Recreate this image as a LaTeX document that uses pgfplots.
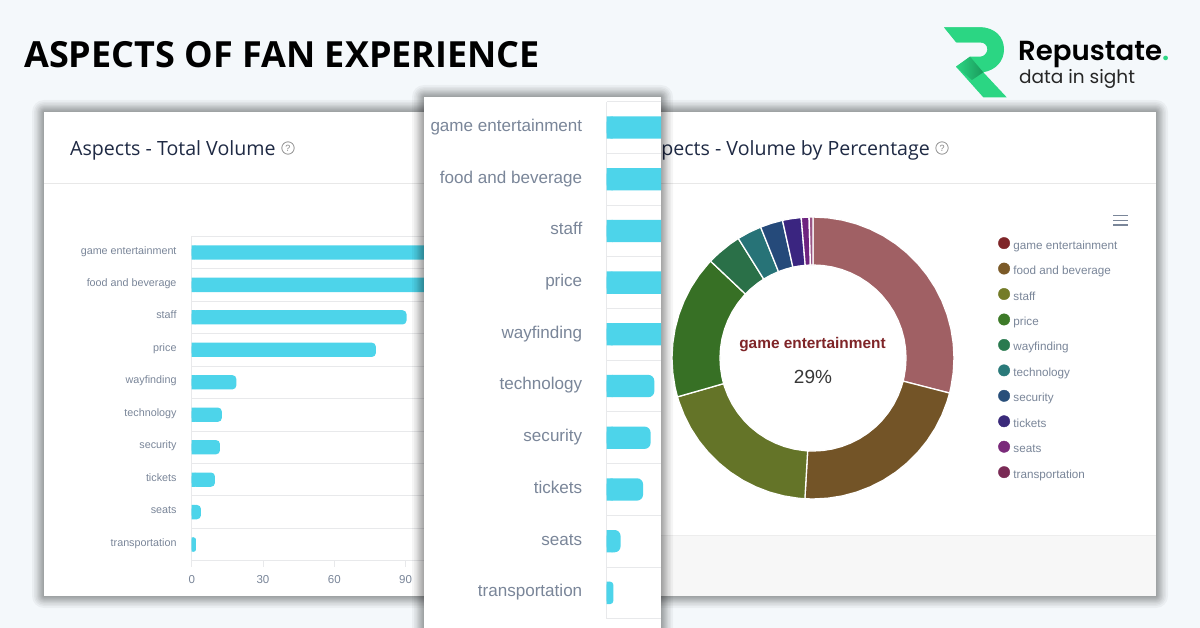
\documentclass[border=0pt]{standalone}
\usepackage{fontspec}
\setmainfont{Liberation Sans}
\newfontfamily\headfont{Open Sans}
\newfontfamily\logofont{Poppins}
\newfontfamily\logobold{Poppins SemiBold}
\usepackage{pgfplots}
\pgfplotsset{compat=1.18}
\usepgfplotslibrary{polar}
\usetikzlibrary{shadings}

\definecolor{pagebg}{HTML}{F4F8FB}
\definecolor{barcyan}{HTML}{4DD4EA}
\definecolor{labelgray}{HTML}{7A8699}
\definecolor{gridgray}{HTML}{E8E9EB}
\definecolor{titlenavy}{HTML}{1F2A44}
\definecolor{logogreen}{HTML}{2BD683}
\definecolor{logodark}{HTML}{1A9A5C}
% slices
\definecolor{cA}{HTML}{A06064}
\definecolor{cB}{HTML}{735427}
\definecolor{cC}{HTML}{647428}
\definecolor{cD}{HTML}{377025}
\definecolor{cE}{HTML}{2A7048}
\definecolor{cF}{HTML}{277377}
\definecolor{cG}{HTML}{254A7A}
\definecolor{cH}{HTML}{3A2580}
\definecolor{cI}{HTML}{6E2480}
\definecolor{cJ}{HTML}{9A5585}
% legend dots
\definecolor{lA}{HTML}{7F2528}
\definecolor{lB}{HTML}{7B5A28}
\definecolor{lC}{HTML}{747C28}
\definecolor{lD}{HTML}{3D7A28}
\definecolor{lE}{HTML}{2A7A4F}
\definecolor{lF}{HTML}{2A7A7A}
\definecolor{lG}{HTML}{284E7A}
\definecolor{lH}{HTML}{3A2A7A}
\definecolor{lI}{HTML}{7A2A7A}
\definecolor{lJ}{HTML}{7A2A55}

\newcommand{\panelshadow}[4]{%
  \foreach \i in {1,2,3,4,5,6,7,8.5,10,12}
    \fill[black, opacity=0.04, rounded corners=\i pt] ({#1-\i},{#2-\i}) rectangle ({#3+\i},{#4+\i});}
\newcommand{\helpicon}[2]{%
  \draw[gray!85, line width=0.8pt] (#1,#2) circle (6.2);
  \node[gray!95, font=\fontsize{9}{9}\selectfont, inner sep=0pt] at (#1,#2) {?};}

\pgfplotsset{
  panelbars/.style={
    scale only axis,
    xmin=0, ymin=-0.5, ymax=9.5,
    axis x line*=bottom, axis y line*=left,
    axis line style={gridgray, line width=0.9pt},
    ytick={0,...,9},
    yticklabels={transportation,seats,tickets,security,technology,wayfinding,price,staff,food and beverage,game entertainment},
    minor ytick={-0.5,0.5,...,9.5},
    yminorgrids=true,
    minor grid style={gridgray, line width=0.9pt},
    minor tick length=0pt,
    ytick style={draw=none},
    tick label style={labelgray},
    xbar, bar shift=0pt,
  },
}

\begin{document}
\begin{tikzpicture}
\path[use as bounding box, clip] (0pt,-628pt) rectangle (1200pt,0pt);
\fill[pagebg] (0pt,-628pt) rectangle (1200pt,0pt);

\begin{scope}[x=1pt,y=-1pt]
  \node[anchor=base west, inner sep=0pt, font=\headfont\bfseries\fontsize{36}{36}\selectfont] at (24,68) {ASPECTS OF FAN EXPERIENCE};

  % logo
  \fill[logogreen] (944,27.3) -- (980,27.3) .. controls (995,27.3) and (1004,37) .. (1004,49.3)
     .. controls (1004,61) and (996,70) .. (983.3,72.3) -- (1006.7,97.3) -- (983.3,97.3) -- (956,66.7)
     -- (970,56.7) -- (980,56.7) .. controls (984,56.7) and (987.3,53) .. (987.3,49.3)
     .. controls (987.3,45) and (984,42.3) .. (980,42.3) -- (956.7,42.3) -- cycle;
  \shade[left color=logogreen, middle color=logodark, right color=logogreen] (956,42.3) -- (944,27.3) -- (980,27.3) .. controls (986,27.3) and (990,29) .. (993,32) -- (985,43) -- (980,42.3) -- cycle;
  \shade[left color=logogreen, right color=logodark] (956,66.7) -- (970,56.7) -- (983.3,72.3) -- (972,80) -- cycle;
  \node[anchor=base west, inner sep=0pt, font=\logobold\fontsize{27.6}{27}\selectfont] at (1018,60.7) {Repustate\textcolor{logogreen}{.}};
  \node[anchor=base west, inner sep=0pt, font=\logofont\fontsize{18.5}{18}\selectfont, text=black!85] at (1019,84) {data in sight};

  % left panel
  \panelshadow{44}{112}{600}{596}
  \fill[white] (44,112) rectangle (600,596);
  \draw[gray!18, line width=0.8pt] (44,183.5) -- (600,183.5);
  \node[anchor=base west, inner sep=0pt, text=titlenavy, font=\headfont\fontsize{19.6}{20}\selectfont] at (70,156) {Aspects - Total Volume};
  \helpicon{288}{148}
\end{scope}

\begin{axis}[panelbars,
    at={(191.7pt,-236.2pt)}, anchor=north west,
    width=356.5pt, height=324.6pt,
    xmax=150,
    xtick={0,30,60,90},
    major tick length=6pt,
    tick align=outside,
    xtick style={gridgray, line width=0.9pt},
    /pgf/number format/assume math mode=true,
    xticklabel style={font=\fontsize{11.5}{12}\selectfont, inner sep=0pt, yshift=-8pt},
    yticklabel style={font=\fontsize{10.76}{12}\selectfont, inner sep=0pt, text height=8pt, text depth=2.3pt, xshift=-9pt, yshift=1.2pt},
    bar width=14.3pt,
  ]
  \addplot[fill=barcyan, draw=none, rounded corners=4pt] coordinates {(133,9)(101,8)(90.4,7)(77.5,6)(18.8,5)(12.7,4)(11.9,3)(9.8,2)(3.9,1)};
  \addplot[fill=barcyan, draw=none, rounded corners=2.2pt] coordinates {(1.8,0)};
  \addplot[fill=barcyan, draw=none] coordinates {(1.5,9)(1.5,8)(1.5,7)(1.5,6)(1.5,5)(1.5,4)(1.5,3)(1.5,2)(1.5,1)(0.9,0)};
\end{axis}

\begin{scope}[x=1pt,y=-1pt]
  % right panel
  \panelshadow{620}{112}{1156}{596}
  \fill[white] (620,112) rectangle (1156,596);
  \fill[black!3] (620,535) rectangle (1156,596);
  \draw[gray!14, line width=0.7pt] (620,535) -- (1156,535);
  \draw[gray!18, line width=0.8pt] (620,183.5) -- (1156,183.5);
  \node[anchor=base east, inner sep=0pt, text=titlenavy, font=\headfont\fontsize{19.6}{20}\selectfont] at (930,156) {Aspects - Volume by Percentage};
  \helpicon{942}{148}
  \draw[labelgray, line width=1.2pt] (1113,215.7) -- (1128,215.7) (1113,220.3) -- (1128,220.3) (1113,225) -- (1128,225);
\end{scope}

\begin{polaraxis}[
    at={(813pt,-358pt)}, anchor=center,
    scale only axis, width=282pt, height=282pt,
    ymin=0, ymax=141, hide axis, clip=false,
    legend cell align=left,
    legend style={at={(1.156,0.929)}, anchor=north west, draw=none, fill=none,
      inner sep=0pt, row sep=10.05pt, text=labelgray,
      font=\fontsize{11.7}{12}\selectfont,
      nodes={text height=9.5pt, text depth=3.5pt, inner sep=0pt, anchor=base west},
      /tikz/every odd column/.style={column sep=3.4pt}},
    legend image code/.code={\fill[#1] (0pt,6pt) circle (5.7pt);},
    slice/.style={fill=#1, draw=white, line width=1.3pt, mark=none, forget plot},
  ]
  \addplot[slice=cA] coordinates {(90,141)(84,141)(78,141)(72,141)(66,141)(60,141)(54,141)(48,141)(42,141)(36,141)(30,141)(24,141)(18,141)(12,141)(6,141)(0,141)(-6,141)(-12,141)(-14.4,141)
    (-14.4,93)(-12,93)(-6,93)(0,93)(6,93)(12,93)(18,93)(24,93)(30,93)(36,93)(42,93)(48,93)(54,93)(60,93)(66,93)(72,93)(78,93)(84,93)(90,93)(90,141)};
  \addplot[slice=cB] coordinates {(-14.4,141)(-18,141)(-24,141)(-30,141)(-36,141)(-42,141)(-48,141)(-54,141)(-60,141)(-66,141)(-72,141)(-78,141)(-84,141)(-90,141)(-93.3,141)
    (-93.3,93)(-90,93)(-84,93)(-78,93)(-72,93)(-66,93)(-60,93)(-54,93)(-48,93)(-42,93)(-36,93)(-30,93)(-24,93)(-18,93)(-14.4,93)(-14.4,141)};
  \addplot[slice=cC] coordinates {(-93.3,141)(-96,141)(-102,141)(-108,141)(-114,141)(-120,141)(-126,141)(-132,141)(-138,141)(-144,141)(-150,141)(-156,141)(-162,141)(-164,141)
    (-164,93)(-162,93)(-156,93)(-150,93)(-144,93)(-138,93)(-132,93)(-126,93)(-120,93)(-114,93)(-108,93)(-102,93)(-96,93)(-93.3,93)(-93.3,141)};
  \addplot[slice=cD] coordinates {(-164,141)(-168,141)(-174,141)(-180,141)(-186,141)(-192,141)(-198,141)(-204,141)(-210,141)(-216,141)(-222,141)(-223.4,141)
    (-223.4,93)(-222,93)(-216,93)(-210,93)(-204,93)(-198,93)(-192,93)(-186,93)(-180,93)(-174,93)(-168,93)(-164,93)(-164,141)};
  \addplot[slice=cE] coordinates {(-223.4,141)(-228,141)(-234,141)(-238,141)(-238,93)(-234,93)(-228,93)(-223.4,93)(-223.4,141)};
  \addplot[slice=cF] coordinates {(-238,141)(-243,141)(-248.2,141)(-248.2,93)(-243,93)(-238,93)(-238,141)};
  \addplot[slice=cG] coordinates {(-248.2,141)(-253,141)(-257.5,141)(-257.5,93)(-253,93)(-248.2,93)(-248.2,141)};
  \addplot[slice=cH] coordinates {(-257.5,141)(-261,141)(-265.2,141)(-265.2,93)(-261,93)(-257.5,93)(-257.5,141)};
  \addplot[slice=cI] coordinates {(-265.2,141)(-268.4,141)(-268.4,93)(-265.2,93)(-265.2,141)};
  \addplot[slice=cJ] coordinates {(-268.4,141)(-270,141)(-270,93)(-268.4,93)(-268.4,141)};
  \addlegendimage{lA}\addlegendentry{game entertainment}
  \addlegendimage{lB}\addlegendentry{food and beverage}
  \addlegendimage{lC}\addlegendentry{staff}
  \addlegendimage{lD}\addlegendentry{price}
  \addlegendimage{lE}\addlegendentry{wayfinding}
  \addlegendimage{lF}\addlegendentry{technology}
  \addlegendimage{lG}\addlegendentry{security}
  \addlegendimage{lH}\addlegendentry{tickets}
  \addlegendimage{lI}\addlegendentry{seats}
  \addlegendimage{lJ}\addlegendentry{transportation}
\end{polaraxis}

\begin{scope}[x=1pt,y=-1pt]
  \node[text=lA, font=\bfseries\fontsize{15.4}{16}\selectfont, inner sep=0pt] at (812.5,344.5) {game entertainment};
  \node[text=black!78, font=\fontsize{19}{20}\selectfont, inner sep=0pt] at (813,377) {29\%};
  % middle panel, a blow-up of the left one
  \panelshadow{424}{97}{661}{640}
  \fill[white] (424,97) rectangle (661,640);
\end{scope}

\begin{axis}[panelbars,
    at={(606.7pt,-101.7pt)}, anchor=north west,
    width=54.3pt, height=517pt,
    xmax=14.48,
    xtick=\empty,
    yticklabel style={font=\fontsize{17.06}{18}\selectfont, inner sep=0pt, text height=12.6pt, text depth=3.6pt, xshift=-20pt, yshift=0.6pt},
    bar width=22.3pt,
  ]
  \addplot[fill=barcyan, draw=none, rounded corners=6pt] coordinates {(133,9)(101,8)(90.4,7)(77.5,6)(18.8,5)(12.7,4)(11.7,3)(9.7,2)(3.7,1)};
  \addplot[fill=barcyan, draw=none, rounded corners=3pt] coordinates {(1.76,0)};
  \addplot[fill=barcyan, draw=none] coordinates {(1.6,9)(1.6,8)(1.6,7)(1.6,6)(1.6,5)(1.6,4)(1.6,3)(1.6,2)(1.6,1)(0.8,0)};
\end{axis}
\end{tikzpicture}
\end{document}
